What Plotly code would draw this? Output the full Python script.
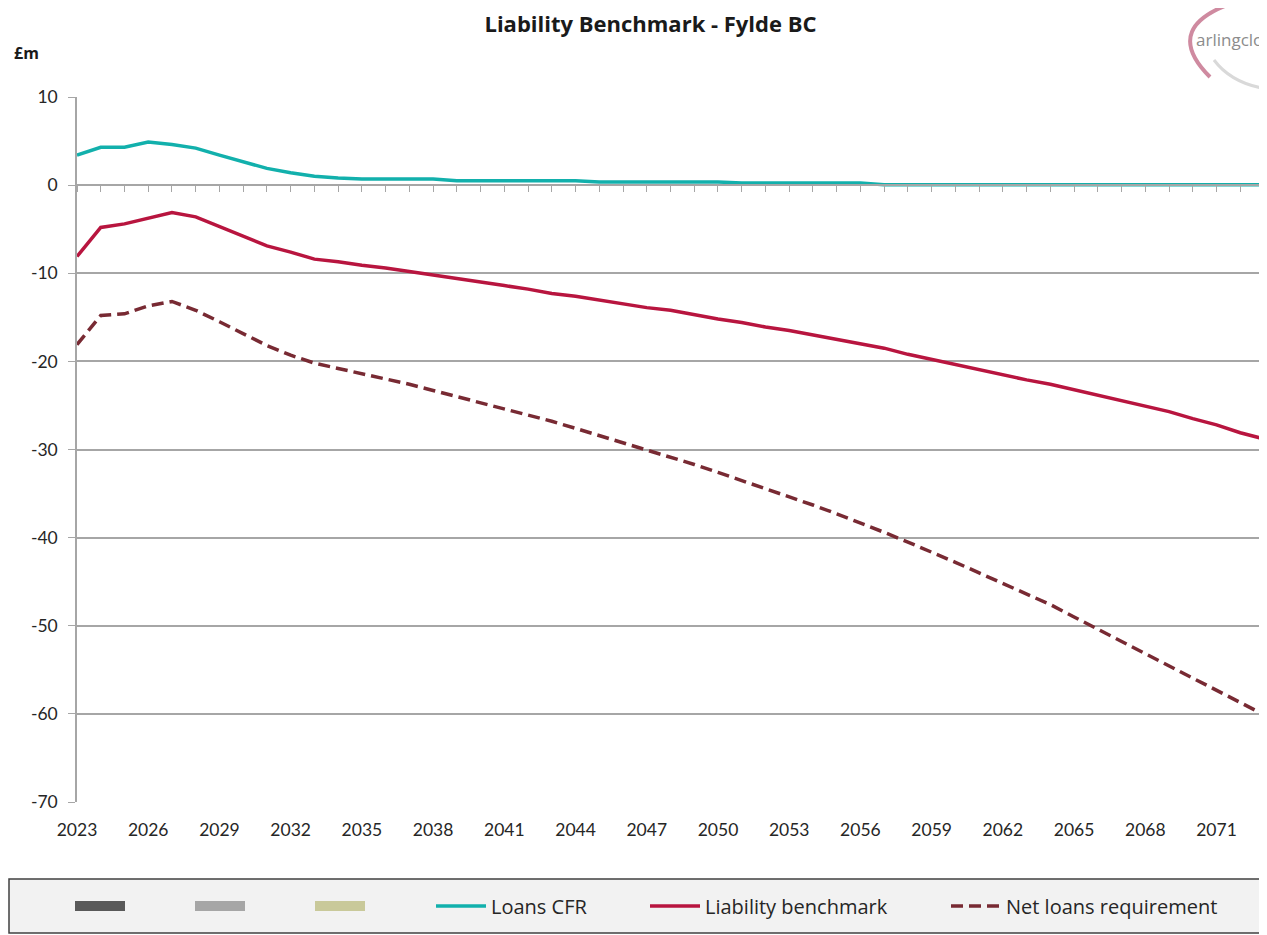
import plotly.graph_objects as go

# ---------------- data ----------------
years = list(range(2023, 2074))
loans_cfr = [3.4, 4.3, 4.3, 4.9, 4.6, 4.2, 3.4, 2.7, 1.9, 1.4,
             1.0, 0.8, 0.7, 0.7, 0.7, 0.7, 0.5, 0.5, 0.5, 0.5,
             0.5, 0.5, 0.35, 0.35, 0.35, 0.35, 0.35, 0.35, 0.25, 0.25,
             0.25, 0.25, 0.25, 0.25, 0.05, 0.05, 0.05, 0.05, 0.05, 0.05,
             0.05, 0.05, 0.05, 0.05, 0.05, 0.05, 0.05, 0.05, 0.05, 0.05, 0.05]
liability_benchmark = [-8.1, -4.8, -4.4, -3.7, -3.1, -3.6, -4.7, -5.9, -6.9, -7.6,
                       -8.4, -8.7, -9.1, -9.4, -9.8, -10.2, -10.6, -11.1, -11.4, -11.8,
                       -12.3, -12.6, -13.0, -13.4, -13.9, -14.2, -14.7, -15.2, -15.6, -16.1,
                       -16.5, -17.0, -17.5, -18.0, -18.5, -19.2, -19.8, -20.4, -20.9, -21.5,
                       -22.1, -22.6, -23.2, -23.8, -24.5, -25.1, -25.7, -26.5, -27.2, -28.1, -28.8]
net_loans_requirement = [-18.1, -14.8, -14.6, -13.7, -13.2, -14.2, -15.5, -16.9, -18.2, -19.3,
                         -20.2, -20.8, -21.4, -22.0, -22.6, -23.3, -24.0, -24.7, -25.3, -26.0,
                         -26.8, -27.6, -28.4, -29.2, -30.0, -30.8, -31.7, -32.6, -33.5, -34.4,
                         -35.3, -36.3, -37.3, -38.3, -39.4, -40.5, -41.6, -42.8, -44.0, -45.2,
                         -46.4, -47.6, -49.0, -50.4, -51.8, -53.2, -54.6, -56.0, -57.4, -58.8, -60.1]
x_tick_values = list(range(2023, 2072, 3))
x_tick_labels = [str(v) for v in x_tick_values]
y_tick_values = list(range(-70, 11, 10))
y_tick_labels = [str(v) for v in y_tick_values]

title_text = "Liability Benchmark - Fylde BC"
unit_text = "£m"

# ---------------- layout geometry (page pixels, body has an 8px margin) ----------------
OFF = 8
W, H = 1267 - OFF, 935 - OFF
PL, PR, PT, PB = 77, 1264, 97, 802          # plot area in page pixels
L, R, T, B = PL - OFF, (W + OFF) - PR, PT - OFF, (H + OFF) - PB
PW = W - L - R
PH = H - T - B
FONT = "Lato, 'Open Sans', sans-serif"
OPEN = "'Open Sans', sans-serif"
GRID = "#a6a6a6"


def px_x(px):
    return (px - PL) / PW


def px_y(py):
    return (PB - py) / PH


fig = go.Figure()

# empty series shown only in the legend (rectangles)
rect_series = [("#595959", "legend"), ("#a6a6a6", "legend2"), ("#c9c99a", "legend3")]
for col, lg in rect_series:
    fig.add_trace(go.Scatter(x=[None], y=[None], mode="lines", name="",
                             line=dict(color=col, width=14),
                             legend=lg, showlegend=True, hoverinfo="skip"))

fig.add_trace(go.Scatter(x=years, y=loans_cfr, mode="lines", name="Loans CFR",
                         line=dict(color="#12b0ac", width=3.5), legend="legend4"))
fig.add_trace(go.Scatter(x=years, y=liability_benchmark, mode="lines", name="Liability benchmark",
                         line=dict(color="#b8153f", width=3.5), legend="legend5"))
fig.add_trace(go.Scatter(x=years, y=net_loans_requirement, mode="lines", name="Net loans requirement",
                         line=dict(color="#782a33", width=3.5, dash="12px,6px"), legend="legend6"))

legend_pos = {"legend": 70, "legend2": 190, "legend3": 310,
              "legend4": 431, "legend5": 645, "legend6": 946}
legend_layout = {}
for lg, px in legend_pos.items():
    legend_layout[lg] = dict(
        x=px_x(px), xanchor="left", y=px_y(906), yanchor="middle",
        orientation="h", bgcolor="rgba(0,0,0,0)", borderwidth=0,
        itemwidth=50,
        font=dict(family=OPEN, size=20, color="#262626"),
    )

fig.update_layout(
    width=W, height=H,
    margin=dict(l=L, r=R, t=T, b=B),
    paper_bgcolor="white", plot_bgcolor="white",
    font=dict(family=FONT, size=17, color="#262626"),
    title=dict(text="<b>" + title_text + "</b>", x=(650.5 - OFF) / W, xref="container",
               xanchor="center", y=1 - (24 - OFF) / H, yanchor="middle",
               font=dict(family=OPEN, size=22, color="#1a1a1a")),
    xaxis=dict(range=[2023, 2073], tickmode="array", tickvals=x_tick_values,
               ticktext=x_tick_labels, showgrid=False, zeroline=False,
               showline=False, ticks="outside", ticklen=12,
               tickcolor="rgba(0,0,0,0)",
               tickfont=dict(family=FONT, size=17.5, color="#262626")),
    xaxis2=dict(range=[2023, 2073], overlaying="x", anchor="free", position=0.875,
                showline=True, linecolor=GRID, linewidth=1.5, ticks="outside",
                tickmode="linear", tick0=2023, dtick=1, ticklen=6, tickcolor=GRID,
                showticklabels=False, showgrid=False, zeroline=False),
    yaxis=dict(range=[-70, 10], tickmode="array", tickvals=y_tick_values,
               ticktext=y_tick_labels,
               showgrid=True, gridcolor=GRID, gridwidth=1.5, zeroline=False,
               showline=True, linecolor=GRID, linewidth=1.5,
               ticks="outside", ticklen=7, tickcolor=GRID, ticklabelstandoff=7,
               tickfont=dict(size=17.5, color="#262626")),
    showlegend=True,
    **legend_layout,
)

# dummy trace so the zero axis is rendered
fig.add_trace(go.Scatter(x=[2023], y=[0], xaxis="x2", mode="markers",
                         marker=dict(opacity=0), showlegend=False, hoverinfo="skip"))

# legend frame
fig.add_shape(type="rect", xref="paper", yref="paper",
              x0=px_x(9), x1=px_x(1269), y0=px_y(933), y1=px_y(879),
              line=dict(color="#404040", width=1.5), fillcolor="#f2f2f2", layer="below")

# unit label
fig.add_annotation(text="<b>" + unit_text + "</b>", xref="paper", yref="paper",
                   x=px_x(12), y=px_y(53), xanchor="left", yanchor="middle", showarrow=False,
                   font=dict(family=OPEN, size=16, color="#1a1a1a"))

# logo (decorative)
fig.add_annotation(text="arlingclo", xref="paper", yref="paper",
                   x=px_x(1194), y=px_y(39), xanchor="left", yanchor="middle",
                   showarrow=False,
                   font=dict(family=OPEN, size=17, color="#8c8c8c"))


def pth(points):
    (x0, y0), rest = points[0], points[1:]
    s = f"M {px_x(x0)},{px_y(y0)}"
    s += " Q " + " ".join(f"{px_x(a)},{px_y(b)}" for a, b in rest)
    return s


fig.add_shape(type="path", xref="paper", yref="paper",
              path=pth([(1242, 0), (1158, 25), (1210, 77)]),
              line=dict(color="#cf8aa0", width=4))
fig.add_shape(type="path", xref="paper", yref="paper",
              path=pth([(1214, 60), (1232, 84), (1268, 89)]),
              line=dict(color="#d9d9d9", width=3))

fig.write_html("out.html")
